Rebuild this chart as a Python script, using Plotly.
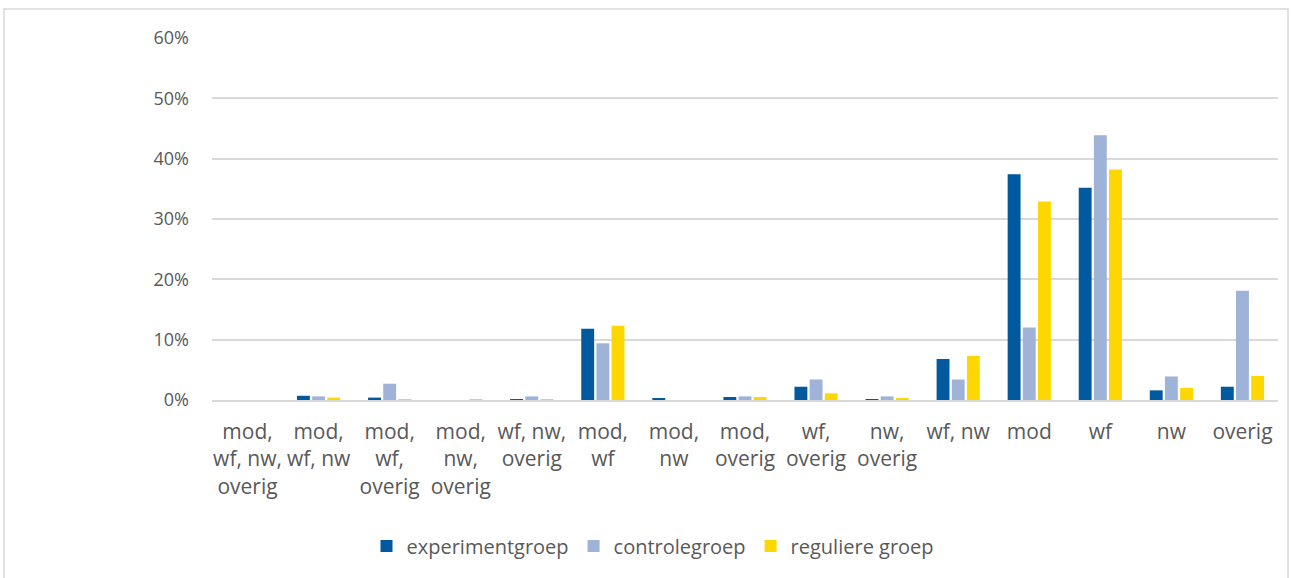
import plotly.graph_objects as go

categories = ["mod,<br>wf, nw,<br>overig", "mod,<br>wf, nw", "mod,<br>wf,<br>overig", "mod,<br>nw,<br>overig",
              "wf, nw,<br>overig", "mod,<br>wf", "mod,<br>nw", "mod,<br>overig", "wf,<br>overig",
              "nw,<br>overig", "wf, nw", "mod", "wf", "nw", "overig"]
experimentgroep = [0.0, 0.7, 0.4, 0.0, 0.1, 11.8, 0.2, 0.5, 2.2, 0.1, 6.8, 37.4, 35.2, 1.6, 2.2]
controlegroep = [0.0, 0.6, 2.7, 0.0, 0.6, 9.4, 0.0, 0.6, 3.4, 0.6, 3.4, 12.0, 43.9, 3.9, 18.1]
reguliere_groep = [0.0, 0.4, 0.1, 0.05, 0.1, 12.3, 0.0, 0.5, 1.1, 0.2, 7.3, 32.9, 38.2, 2.0, 4.0]
y_ticks = [0, 10, 20, 30, 40, 50, 60]

series = [("experimentgroep", experimentgroep, "#01599F"),
          ("controlegroep", controlegroep, "#9FB3D9"),
          ("reguliere groep", reguliere_groep, "#FFD700")]

fig = go.Figure()
for name, vals, col in series:
    fig.add_trace(go.Bar(x=categories, y=vals, name=name, marker_color=col,
                         marker_line_width=0))

W, H = 1291, 578
L, R, T, B = 212, 13, 38, 178
pw, ph = W - L - R, H - T - B

font_fam = "Open Sans, Liberation Sans, sans-serif"
fig.update_layout(
    width=W, height=H,
    margin=dict(l=L, r=R, t=T, b=B),
    paper_bgcolor="white", plot_bgcolor="white",
    barmode="group", bargap=0.36, bargroupgap=0.15,
    font=dict(family=font_fam, color="#595959", size=18),
    legend=dict(orientation="h", x=(653 - L) / pw, xanchor="center",
                y=-(546 - (H - B)) / ph, yanchor="middle",
                font=dict(size=20, color="#595959"), traceorder="normal", itemwidth=30),
    showlegend=True,
)
fig.update_yaxes(range=[0, 60], tickvals=y_ticks, ticktext=[f"{v}%" for v in y_ticks],
                 showgrid=True, gridcolor="#d9d9d9", gridwidth=1.5, zeroline=False,
                 ticks="", ticklabelstandoff=22, tickfont=dict(size=18, color="#595959"))
fig.update_xaxes(showline=True, linecolor="#d9d9d9", linewidth=1.5, ticks="",
                 tickfont=dict(size=21, color="#595959"), tickangle=0, ticklabelstandoff=12)
fig.add_shape(type="rect", xref="paper", yref="paper",
              x0=(4 - L) / pw, x1=(1288 - L) / pw,
              y0=-(580 - (H - B)) / ph, y1=1 + (T - 9) / ph,
              line=dict(color="#d9d9d9", width=1.5), fillcolor="rgba(0,0,0,0)", layer="below")
fig.write_html("out.html", config={"displayModeBar": False},
               post_script="document.body.style.margin='0';document.body.style.overflow='hidden';")
